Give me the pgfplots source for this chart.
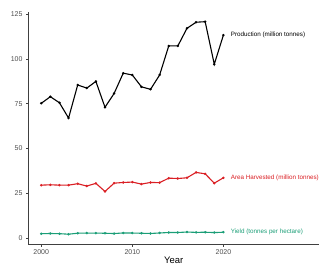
\documentclass[border=0pt]{standalone}
\usepackage{pgfplots}
\pgfplotsset{compat=1.18}
\usepackage{fontspec}
\setmainfont{Liberation Sans}
\definecolor{prodc}{HTML}{000000}
\definecolor{areac}{HTML}{DA1F24}
\definecolor{yieldc}{HTML}{1B9E77}
\definecolor{tickc}{HTML}{4D4D4D}
\begin{document}
\begin{tikzpicture}
\begin{axis}[
  scale only axis,
  width=290.5bp, height=232bp,
  xmin=1998.6, xmax=2030.5,
  ymin=-3.2, ymax=126.1,
  axis x line*=bottom, axis y line*=left,
  axis line style={-, draw=black!75, line width=0.9bp},
  xtick={2000,2010,2020},
  ytick={0,25,50,75,100,125},
  tick align=outside,
  major tick length=2.5bp,
  tick style={draw=black!75, line width=0.6bp},
  tick label style={font=\fontsize{7}{8}\selectfont, text=tickc},
  /pgf/number format/1000 sep={},
  /pgf/number format/assume math mode=true,
  xlabel={Year},
  xlabel style={font=\fontsize{9.5}{11}\selectfont, yshift=4.5bp},
  clip=false,
]
\addplot[prodc, line width=1.1bp, mark=*, mark size=0.6bp] coordinates {
(2000,75.2) (2001,78.9) (2002,75.5) (2003,67.0) (2004,85.4) (2005,83.7)
(2006,87.4) (2007,73.0) (2008,80.7) (2009,92.0) (2010,91.0) (2011,84.4)
(2012,83.0) (2013,91.0) (2014,107.2) (2015,107.2) (2016,117.0) (2017,120.4)
(2018,120.7) (2019,97.0) (2020,113.2)};
\addplot[areac, line width=1.1bp, mark=*, mark size=0.6bp] coordinates {
(2000,29.6) (2001,29.8) (2002,29.6) (2003,29.6) (2004,30.4) (2005,29.1)
(2006,30.6) (2007,26.1) (2008,30.7) (2009,31.1) (2010,31.3) (2011,30.2)
(2012,31.1) (2013,31.0) (2014,33.5) (2015,33.3) (2016,33.7) (2017,36.7)
(2018,35.9) (2019,30.7) (2020,33.7)};
\addplot[yieldc, line width=1.1bp, mark=*, mark size=0.6bp] coordinates {
(2000,2.54) (2001,2.65) (2002,2.55) (2003,2.26) (2004,2.81) (2005,2.88)
(2006,2.86) (2007,2.80) (2008,2.63) (2009,2.96) (2010,2.91) (2011,2.79)
(2012,2.67) (2013,2.94) (2014,3.20) (2015,3.22) (2016,3.47) (2017,3.28)
(2018,3.36) (2019,3.16) (2020,3.36)};
\node[anchor=west, inner sep=0pt, font=\fontsize{6.3}{7}\selectfont, text=black] at (axis cs:2020.8,113.2) {Production (million tonnes)};
\node[anchor=west, inner sep=0pt, font=\fontsize{6.3}{7}\selectfont, text=areac] at (axis cs:2020.8,33.7) {Area Harvested (million tonnes)};
\node[anchor=west, inner sep=0pt, font=\fontsize{6.3}{7}\selectfont, text=yieldc] at (axis cs:2020.8,3.36) {Yield (tonnes per hectare)};
\end{axis}
\path (current axis.south west) ++(-28.5bp,-33bp) rectangle ++(327bp,277bp);
\end{tikzpicture}
\end{document}
